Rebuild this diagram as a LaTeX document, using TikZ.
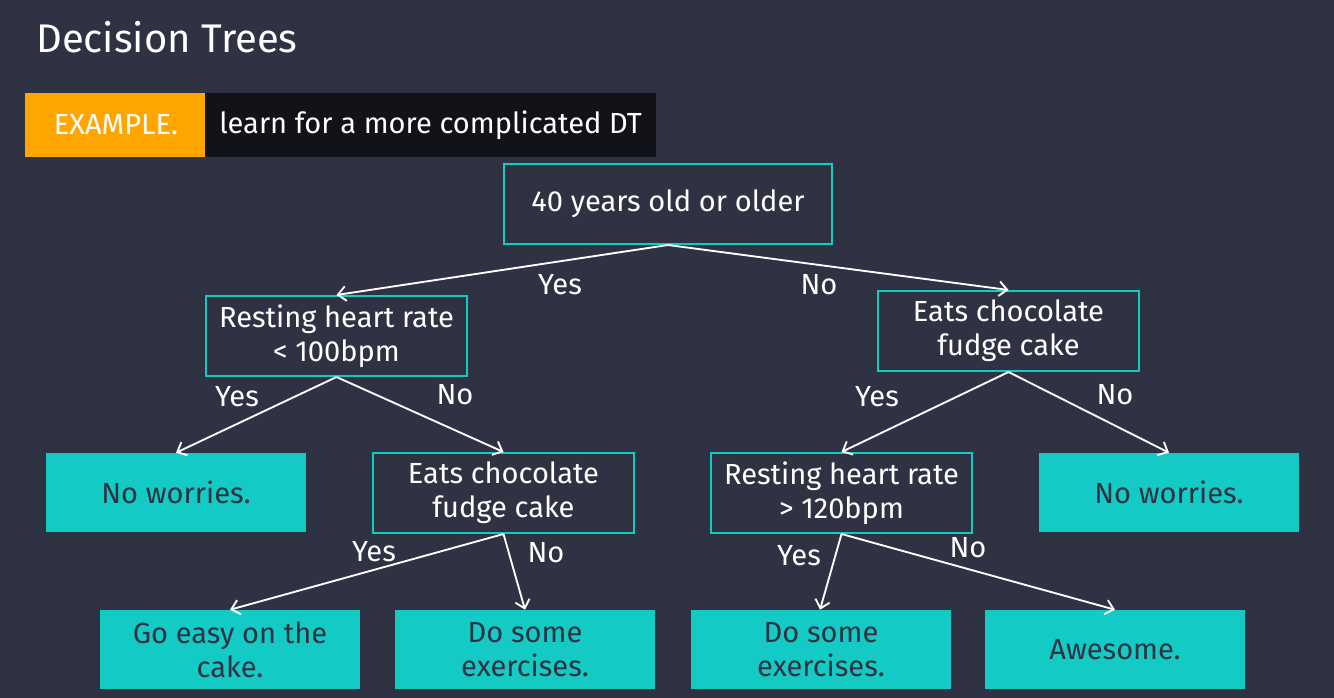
\documentclass[tikz,border=0pt]{standalone}
\usepackage{fontspec}
\setmainfont{Fira Sans}
\usetikzlibrary{arrows.meta}
\definecolor{bg}{HTML}{2E3243}
\definecolor{teal}{HTML}{13CBC4}
\definecolor{orng}{HTML}{FFA500}
\definecolor{blk}{HTML}{121318}
\tikzset{
  x=0.75pt, y=-0.75pt,
  txt/.style={font=\fontsize{21.8}{25.5}\selectfont},
  outbox/.style={draw=teal, line width=1.5pt, fill=bg, text=white, align=center, txt, inner sep=0pt},
  leafbox/.style={fill=teal, text=bg, align=center, txt, inner sep=0pt},
  conn/.style={draw=white, line width=1.4pt, -{Straight Barb[length=6pt,width=11pt,line width=1.4pt]}},
  lbl/.style={text=white, txt, inner sep=0pt},
}
\begin{document}
\begin{tikzpicture}
\fill[bg] (0,0) rectangle (1334,698);
\useasboundingbox (0,0) rectangle (1334,698);
\node[anchor=west, text=white, font=\fontsize{30}{36}\selectfont, inner sep=0pt] (title) at (36,37) {Decision Trees};
\fill[orng] (25,93) rectangle (205,157);
\fill[blk] (205,93) rectangle (656,157);
\node[text=white, txt, inner sep=0pt] (ex) at (116,125) {EXAMPLE.};
\node[anchor=west, text=white, txt, inner sep=0pt] (exd) at (219,125) {learn for a more complicated DT};
% level 0
\node[outbox, minimum width=328*0.75pt, minimum height=80*0.75pt] (root) at (668,204) {40 years old or older};
% level 1
\node[outbox, minimum width=261*0.75pt, minimum height=80*0.75pt] (hr1) at (336.5,336) {Resting heart rate\\< 100bpm};
\node[outbox, minimum width=261*0.75pt, minimum height=80*0.75pt] (cake1) at (1008.5,331) {Eats chocolate\\fudge cake};
% level 2
\node[leafbox, minimum width=260*0.75pt, minimum height=79*0.75pt] (nw1) at (176,492.5) {No worries.};
\node[outbox, minimum width=261*0.75pt, minimum height=80*0.75pt] (cake2) at (503.5,493) {Eats chocolate\\fudge cake};
\node[outbox, minimum width=261*0.75pt, minimum height=80*0.75pt] (hr2) at (841.5,493) {Resting heart rate\\> 120bpm};
\node[leafbox, minimum width=260*0.75pt, minimum height=79*0.75pt] (nw2) at (1169,492.5) {No worries.};
% level 3
\node[leafbox, minimum width=260*0.75pt, minimum height=79*0.75pt] (easy) at (230,649.5) {Go easy on the\\cake.};
\node[leafbox, minimum width=260*0.75pt, minimum height=79*0.75pt] (ex1) at (525,649.5) {Do some\\exercises.};
\node[leafbox, minimum width=260*0.75pt, minimum height=79*0.75pt] (ex2) at (821,649.5) {Do some\\exercises.};
\node[leafbox, minimum width=260*0.75pt, minimum height=79*0.75pt] (awe) at (1115,649.5) {Awesome.};
% connectors
\draw[conn] (root.south) -- (hr1.north);
\draw[conn] (root.south) -- (cake1.north);
\draw[conn] (hr1.south) -- (nw1.north);
\draw[conn] (hr1.south) -- (cake2.north);
\draw[conn] (cake1.south) -- (hr2.north);
\draw[conn] (cake1.south) -- (nw2.north);
\draw[conn] (cake2.south) -- (easy.north);
\draw[conn] (cake2.south) -- (ex1.north);
\draw[conn] (hr2.south) -- ([xshift=-1*0.75pt]ex2.north);
\draw[conn] (hr2.south) -- (awe.north);
% labels
\node[lbl] (l1) at (560,285) {Yes};
\node[lbl] (l2) at (819,285) {No};
\node[lbl] (l3) at (237,397) {Yes};
\node[lbl] (l4) at (455,395) {No};
\node[lbl] (l5) at (877,397) {Yes};
\node[lbl] (l6) at (1115,395) {No};
\node[lbl] (l7) at (374,552) {Yes};
\node[lbl] (l8) at (546,553) {No};
\node[lbl] (l9) at (799,556) {Yes};
\node[lbl] (l10) at (968,548) {No};
\end{tikzpicture}
\end{document}
